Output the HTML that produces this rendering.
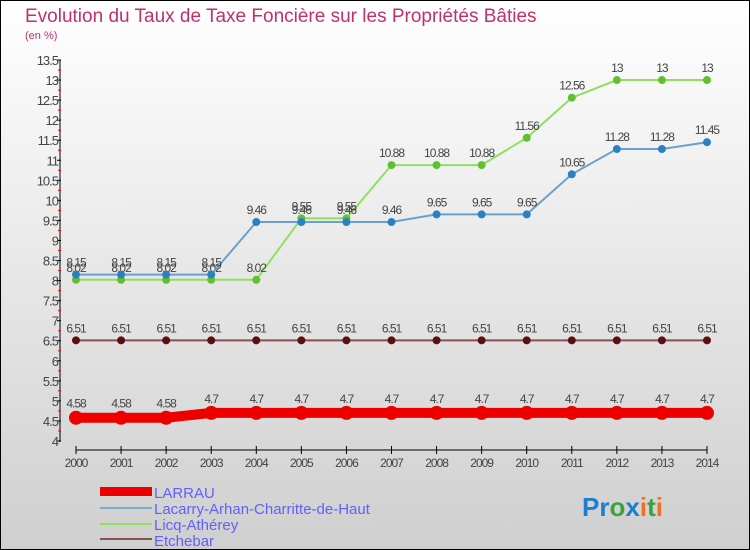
<!DOCTYPE html>
<html><head><meta charset="utf-8"><style>
body{margin:0;}
#c{width:750px;height:550px;position:relative;overflow:hidden;}
text{font-family:"Liberation Sans",sans-serif;}
</style></head><body>
<div id="c">
<svg id="s" width="750" height="550" xmlns="http://www.w3.org/2000/svg">
<defs><linearGradient id="bg" x1="0" y1="0" x2="0" y2="1"><stop offset="0" stop-color="#ffffff"/><stop offset="1" stop-color="#cfcfcf"/></linearGradient></defs>
<rect x="0.5" y="0.5" width="749" height="549" fill="url(#bg)" stroke="#000"/>
<text x="25" y="22" font-size="19" fill="#c0306a">Evolution du Taux de Taxe Foncière sur les Propriétés Bâties</text>
<text x="25" y="39" font-size="11" fill="#c0306a">(en %)</text>
<g id="axes"></g><g id="series"></g>
<g>
<rect x="100" y="487" width="52" height="9" fill="#e00"/>
<text x="154" y="498" font-size="15" fill="#6060ff">LARRAU</text>
<rect x="100" y="507" width="52" height="2" fill="#7aaad0"/>
<text x="154" y="514" font-size="15" fill="#6060ff">Lacarry-Arhan-Charritte-de-Haut</text>
<rect x="100" y="523" width="52" height="2" fill="#90e060"/>
<text x="154" y="530" font-size="15" fill="#6060ff">Licq-Athérey</text>
<rect x="100" y="538" width="52" height="2" fill="#8a5050"/>
<text x="154" y="546" font-size="15" fill="#6060ff">Etchebar</text>
</g>
<text x="582" y="516" font-size="26" font-weight="bold"><tspan fill="#1a7fd0">Pr</tspan><tspan fill="#40a040">o</tspan><tspan fill="#1a7fd0">x</tspan><tspan fill="#f07020">i</tspan><tspan fill="#40a040">t</tspan><tspan fill="#f07020">i</tspan></text>
</svg></div>
<script>
const years=[2000,2001,2002,2003,2004,2005,2006,2007,2008,2009,2010,2011,2012,2013,2014];
const larrau=[4.58,4.58,4.58,4.7,4.7,4.7,4.7,4.7,4.7,4.7,4.7,4.7,4.7,4.7,4.7];
const larrauLabels=["4.58","4.58","4.58","4.7","4.7","4.7","4.7","4.7","4.7","4.7","4.7","4.7","4.7","4.7","4.7"];
const lacarry=[8.15,8.15,8.15,8.15,9.46,9.46,9.46,9.46,9.65,9.65,9.65,10.65,11.28,11.28,11.45];
const licq=[8.02,8.02,8.02,8.02,8.02,9.55,9.55,10.88,10.88,10.88,11.56,12.56,13,13,13];
const etchebar=[6.51,6.51,6.51,6.51,6.51,6.51,6.51,6.51,6.51,6.51,6.51,6.51,6.51,6.51,6.51];
const yTicks=[4,4.5,5,5.5,6,6.5,7,7.5,8,8.5,9,9.5,10,10.5,11,11.5,12,12.5,13,13.5];
const NS="http://www.w3.org/2000/svg";
const X=i=>76+i*(707-76)/14;
const Y=v=>441-(v-4)*(441-60)/9.5;
function el(tag,attrs,parent,txt){const e=document.createElementNS(NS,tag);for(const k in attrs)e.setAttribute(k,attrs[k]);if(txt!==undefined)e.textContent=txt;parent.appendChild(e);return e;}
const ax=document.getElementById('axes');
let a=el('line',{x1:60,y1:60,x2:60,y2:442,stroke:'#000'},ax);

yTicks.forEach((t,i)=>{
 const y=Y(t);
 el('line',{x1:57,y1:y,x2:61,y2:y,stroke:'#000'},ax);
 if(i<yTicks.length-1){el('line',{x1:58,y1:y-10,x2:61,y2:y-10,stroke:'#e00'},ax);}
 const tx=el('text',{x:58,y:y+5,'font-size':13,'text-anchor':'end',fill:'#444','letter-spacing':'-1'},ax,String(t));
 
});
a=el('line',{x1:76,y1:450,x2:707,y2:450,stroke:'#000'},ax);

years.forEach((yr,i)=>{
 el('line',{x1:X(i),y1:446,x2:X(i),y2:454,stroke:'#000'},ax);
 const tx=el('text',{x:X(i),y:467,'font-size':12,'text-anchor':'middle',fill:'#444','letter-spacing':'-1'},ax,String(yr));
 
});
const sg=document.getElementById('series');
function series(vals,labels,color,dot,w,r,name,dy){
 const g=el('g',{},sg);
 
 el('polyline',{points:vals.map((v,i)=>X(i)+','+Y(v)).join(' '),fill:'none',stroke:color,'stroke-width':w},g);
 vals.forEach((v,i)=>{
  const c=el('circle',{cx:X(i),cy:Y(v),r:r,fill:dot},g);
  
  el('text',{x:X(i),y:Y(v)-dy,'font-size':12,'text-anchor':'middle',fill:'#444','letter-spacing':'-1'},g,labels[i]);
 });
}
series(etchebar,etchebar.map(String),'#8a5050','#5a1010',2,4,'etchebar',8);
series(licq,licq.map(String),'#90e060','#60c030',2,4,'licq',8);
series(lacarry,lacarry.map(String),'#6aa0d0','#2a80c0',2,4,'lacarry',8);
series(larrau,larrauLabels,'#e00','#e00',10,7,'larrau',10);
</script>
</body></html>
